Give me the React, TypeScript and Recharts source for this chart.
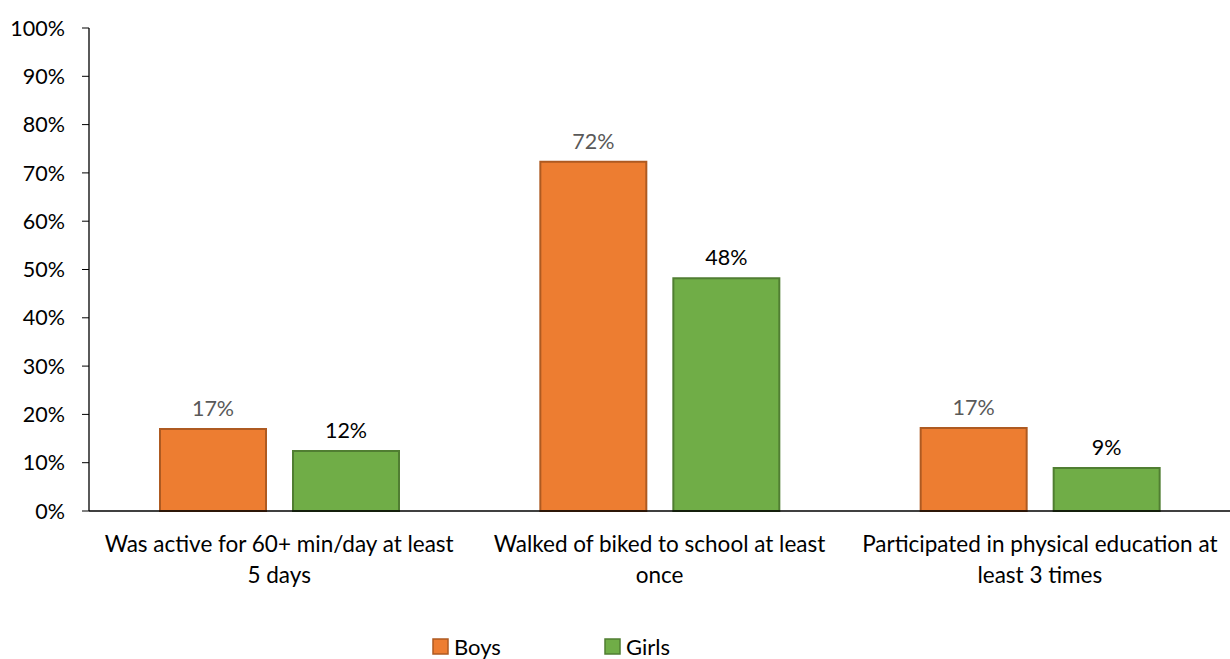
import React from 'react';
import { BarChart, Bar, XAxis, YAxis, LabelList, Legend } from 'recharts';

const categories = [
  'Was active for 60+ min/day at least 5 days',
  'Walked of biked to school at least once',
  'Participated in physical education at least 3 times',
];
const categoryLines = [
  ['Was active for 60+ min/day at least', '5 days'],
  ['Walked of biked to school at least', 'once'],
  ['Participated in physical education at', 'least 3 times'],
];
const boys = [17.0, 72.3, 17.2];
const girls = [12.4, 48.2, 8.9];
const yTicks = [0, 10, 20, 30, 40, 50, 60, 70, 80, 90, 100];

const data = categories.map((c, i) => ({ name: c, idx: i, Boys: boys[i], Girls: girls[i] }));

const FONT = 'Lato, "Open Sans", sans-serif';

const CatTick = (props: any) => {
  const { x, y, payload } = props;
  const lines = categoryLines[payload.index] || [payload.value];
  return (
    <g>
      {lines.map((l: string, i: number) => (
        <text key={i} x={x} y={y + 33 + i * 31} textAnchor="middle" fill="#000" fontSize={22.5} fontFamily={FONT}>
          {l}
        </text>
      ))}
    </g>
  );
};

const LegendContent = () => (
  <svg width={1230} height={30} style={{ display: 'block' }}>
    <rect x={433} y={10} width={15} height={15} fill="#ED7D31" stroke="#AE5A21" strokeWidth={1.5} />
    <text x={454} y={26} fontSize={22} fontFamily={FONT} fill="#000">Boys</text>
    <rect x={605} y={10} width={15} height={15} fill="#70AD47" stroke="#507E32" strokeWidth={1.5} />
    <text x={626} y={26} fontSize={22} fontFamily={FONT} fill="#000">Girls</text>
  </svg>
);

export default function App() {
  return (
    <div style={{ position: 'absolute', left: 0, top: 0, background: '#fff' }}>
      <BarChart
        width={1230}
        height={659}
        data={data}
        margin={{ top: 28, right: 0, bottom: 0, left: 0 }}
        barSize={106}
        barGap={27}
      >
        <XAxis
          dataKey="name"
          tick={<CatTick />}
          tickLine={false}
          axisLine={{ stroke: '#000', strokeWidth: 1.3 }}
          height={118}
          interval={0}
        />
        <YAxis
          domain={[0, 100]}
          ticks={yTicks}
          width={89}
          tickFormatter={(v: number) => `${v}%`}
          tick={{ fill: '#000', fontSize: 21.5, fontFamily: FONT }}
          tickLine={{ stroke: '#000' }}
          tickSize={7}
          tickMargin={17}
          axisLine={{ stroke: '#000', strokeWidth: 1.3 }}
          interval={0}
        />
        <Legend verticalAlign="bottom" height={30} content={<LegendContent />} />
        <Bar dataKey="Boys" fill="#ED7D31" stroke="#AE5A21" strokeWidth={2} isAnimationActive={false}>
          <LabelList
            dataKey="Boys"
            position="top"
            offset={13}
            formatter={(v: number) => `${Math.round(v)}%`}
            style={{ fill: '#595959', fontSize: 21.5, fontFamily: FONT }}
          />
        </Bar>
        <Bar dataKey="Girls" fill="#70AD47" stroke="#507E32" strokeWidth={2} isAnimationActive={false}>
          <LabelList
            dataKey="Girls"
            position="top"
            offset={13}
            formatter={(v: number) => `${Math.round(v)}%`}
            style={{ fill: '#000', fontSize: 21.5, fontFamily: FONT }}
          />
        </Bar>
      </BarChart>
    </div>
  );
}
